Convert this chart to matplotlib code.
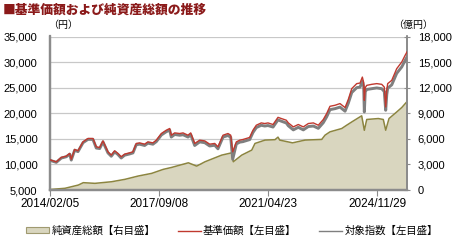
import matplotlib
matplotlib.use("Agg")
import matplotlib.pyplot as plt
import matplotlib.dates as mdates
import pandas as pd
from matplotlib.patches import Patch
from matplotlib.lines import Line2D

# values
price_dates = [
    "2014-02-05", "2014-04-22", "2014-06-22", "2014-08-21", "2014-10-01", "2014-10-20",
    "2014-11-30", "2015-01-09", "2015-03-11", "2015-05-10", "2015-07-09", "2015-08-18",
    "2015-09-28", "2015-11-07", "2016-01-06", "2016-02-15", "2016-03-27", "2016-05-05",
    "2016-06-14", "2016-07-25", "2016-09-24", "2016-11-03", "2016-12-13", "2017-01-23",
    "2017-03-24", "2017-05-03", "2017-07-02", "2017-08-12", "2017-10-12", "2017-12-11",
    "2018-01-21", "2018-02-09", "2018-03-22", "2018-05-22", "2018-07-01", "2018-08-30",
    "2018-10-02", "2018-11-19", "2019-01-18", "2019-03-20", "2019-05-19", "2019-07-19",
    "2019-08-27", "2019-10-27", "2019-12-26", "2020-01-28", "2020-02-21", "2020-04-05",
    "2020-05-16", "2020-06-24", "2020-08-03", "2020-09-13", "2020-10-23", "2020-12-02",
    "2021-01-31", "2021-03-14", "2021-04-22", "2021-06-22", "2021-08-21", "2021-09-30",
    "2021-11-29", "2021-12-24", "2022-02-22", "2022-04-23", "2022-06-23", "2022-08-22",
    "2022-10-22", "2022-12-21", "2023-02-19", "2023-04-01", "2023-05-11", "2023-07-11",
    "2023-09-09", "2023-11-09", "2023-12-18", "2024-01-29", "2024-03-29", "2024-05-08",
    "2024-06-05", "2024-06-21", "2024-06-29", "2024-07-10", "2024-07-28", "2024-09-26",
    "2024-11-26", "2025-01-25", "2025-02-25", "2025-03-14", "2025-03-27", "2025-04-07",
    "2025-05-26", "2025-07-25", "2025-09-24", "2025-11-03", "2025-11-27",
]
nav = [
    10900, 10500, 11370, 11620, 12150, 11000,
    12930, 12660, 14410, 15070, 15070, 13440,
    13300, 14600, 12460, 11820, 12660, 12150,
    11490, 12010, 12270, 12460, 14100, 14210,
    13960, 14410, 14210, 14740, 16040, 16690,
    17020, 15710, 16160, 16040, 16160, 15710,
    16160, 14100, 14740, 14600, 13960, 14100,
    13440, 15710, 16040, 15710, 12460, 14410,
    14740, 14870, 15070, 15270, 16690, 17660,
    18110, 17990, 18110, 17800, 19200, 18970,
    18640, 18110, 17330, 17800, 17330, 17990,
    18110, 17660, 18770, 19940, 21360, 21560,
    21890, 21110, 22670, 24810, 25790, 25900,
    27070, 26000, 22530, 25000, 25450, 25650,
    25790, 25650, 25120, 21230, 24500, 25790,
    26430, 28710, 30010, 31300, 32000,
]
index = [
    10800, 10400, 11250, 11500, 12000, 10850,
    12780, 12500, 14250, 14900, 14880, 13200,
    13100, 14400, 12250, 11600, 12450, 11950,
    11250, 11800, 12050, 12250, 13850, 13950,
    13700, 14150, 13950, 14450, 15750, 16400,
    16700, 15350, 15850, 15700, 15800, 15350,
    15800, 13700, 14400, 14250, 13600, 13750,
    13050, 15350, 15650, 15300, 11000, 14000,
    14350, 14450, 14650, 14850, 16250, 17200,
    17650, 17500, 17600, 17300, 18700, 18450,
    18100, 17550, 16750, 17250, 16750, 17400,
    17500, 17050, 18150, 19300, 20700, 20900,
    21200, 20400, 21950, 24050, 25000, 25100,
    26250, 25200, 20250, 24200, 24650, 24800,
    24950, 24800, 24250, 20580, 23650, 24900,
    25550, 27800, 29050, 30300, 31000,
]
asset_dates = [
    "2014-02-05", "2014-08-05", "2015-01-13", "2015-03-14", "2015-08-02", "2016-02-19",
    "2016-07-29", "2017-01-06", "2017-06-17", "2017-11-04", "2018-02-14", "2018-09-03",
    "2018-12-13", "2019-03-23", "2019-10-11", "2020-02-09", "2020-02-28", "2020-06-09",
    "2020-10-08", "2020-11-16", "2021-03-17", "2021-07-16", "2021-08-21", "2021-09-11",
    "2022-02-13", "2022-07-13", "2023-01-31", "2023-03-12", "2023-05-11", "2023-09-30",
    "2023-11-29", "2024-01-29", "2024-03-22", "2024-05-28", "2024-06-29", "2024-07-28",
    "2024-12-15", "2025-02-13", "2025-03-14", "2025-04-23", "2025-07-25", "2025-09-24",
    "2025-11-23", "2025-11-27",
]
assets = [
    60, 200, 580, 860, 780, 970,
    1250, 1640, 1950, 2420, 2650, 3190,
    2800, 3310, 4090, 4360, 3310, 4090,
    4680, 5460, 5850, 5900, 6200, 5850,
    5530, 5850, 5930, 6430, 6820, 7210,
    7600, 7980, 8300, 8700, 7000, 8270,
    8380, 8270, 7010, 8380, 9150, 9670,
    10330, 10400,
]

x_ticks = ["2014/02/05", "2017/09/08", "2021/04/23", "2024/11/29"]
x_range = ["2014-02-05", "2025-11-30"]

RED = "#c0392f"
GRAY = "#7f7f7f"
OLIVE = "#8c8540"
FILL = "#d9d6bf"
AXIS = "#8c8c8c"
CJK = ["Noto Sans CJK JP", "DejaVu Sans"]
NUM = "Liberation Sans"

pd_price = pd.to_datetime(price_dates)
pd_assets = pd.to_datetime(asset_dates)

fig = plt.figure(figsize=(4.56, 2.40), dpi=100)
ax = fig.add_axes([50 / 456, 1 - 190 / 240, 357.3 / 456, 153.5 / 240])
ax2 = ax.twinx()

# net assets on the base axes (right scale), prices on the twin (left scale)
ax.fill_between(pd_assets, assets, 0, color=FILL, lw=0, zorder=2)
ax.plot(pd_assets, assets, color=OLIVE, lw=1.1, zorder=3)
ax.set_ylim(0, 18000)
ax.set_yticks(range(0, 18001, 3000))
ax.yaxis.tick_right()
ax.yaxis.set_label_position("right")
ax.grid(axis="y", color="#c8c8c8", lw=0.9)
ax.set_axisbelow(True)

ax2.plot(pd_price, index, color=GRAY, lw=2.1, zorder=3)
ax2.plot(pd_price, nav, color=RED, lw=1.0, zorder=4)
ax2.set_ylim(5000, 35000)
ax2.set_yticks(range(5000, 35001, 5000))
ax2.yaxis.tick_left()
ax2.yaxis.set_label_position("left")

ax.set_xlim(pd.to_datetime(x_range[0]), pd.to_datetime(x_range[1]))
ax.set_xticks(pd.to_datetime(x_ticks, format="%Y/%m/%d"))
ax.xaxis.set_major_formatter(mdates.DateFormatter("%Y/%m/%d"))

for a in (ax, ax2):
    a.spines["top"].set_visible(False)
    for s in ("left", "right", "bottom"):
        a.spines[s].set_color(AXIS)
    a.spines["left"].set_linewidth(1.6)
    a.spines["bottom"].set_linewidth(1.6)
    a.spines["right"].set_linewidth(1.3)

ax.tick_params(axis="x", direction="out", length=4, width=0.8, color=AXIS, pad=2,
               labelsize=8.5)
ax.tick_params(axis="y", direction="inout", length=5, width=0.8, color=AXIS, pad=5,
               labelsize=8)
ax2.tick_params(axis="y", length=0, pad=9, labelsize=8)
for lab in ax.get_xticklabels() + ax.get_yticklabels() + ax2.get_yticklabels():
    lab.set_fontfamily(NUM)
ax.yaxis.set_major_formatter(matplotlib.ticker.FuncFormatter(lambda v, p: f"{int(v):,}"))
ax2.yaxis.set_major_formatter(matplotlib.ticker.FuncFormatter(lambda v, p: f"{int(v):,}"))

fig.text(3 / 456, 1 - 10 / 240, "■基準価額および純資産総額の推移", family=CJK,
         fontsize=9.2, fontweight="heavy", color="#8b1a1a", va="center", ha="left")
fig.text(48 / 456, 1 - 25 / 240, "（円）", family=CJK, fontsize=7.2, va="center", ha="left")
fig.text(393 / 456, 1 - 25 / 240, "（億円）", family=CJK, fontsize=7.2, va="center", ha="left")

handles = [
    Patch(facecolor=FILL, edgecolor="#a09a70", lw=0.8),
    Line2D([], [], color=RED, lw=1.0),
    Line2D([], [], color=GRAY, lw=1.0),
]
labels = ["純資産総額【右目盛】", "基準価額【左目盛】", "対象指数【左目盛】"]
leg = fig.legend(handles, labels, loc="center", bbox_to_anchor=(232 / 456, 1 - 231 / 240),
                 ncol=3, frameon=False, prop={"family": CJK, "size": 7.5},
                 handlelength=2.2, handleheight=0.5, handletextpad=0.2, columnspacing=2.2)

fig.savefig("out.png", dpi=100)
